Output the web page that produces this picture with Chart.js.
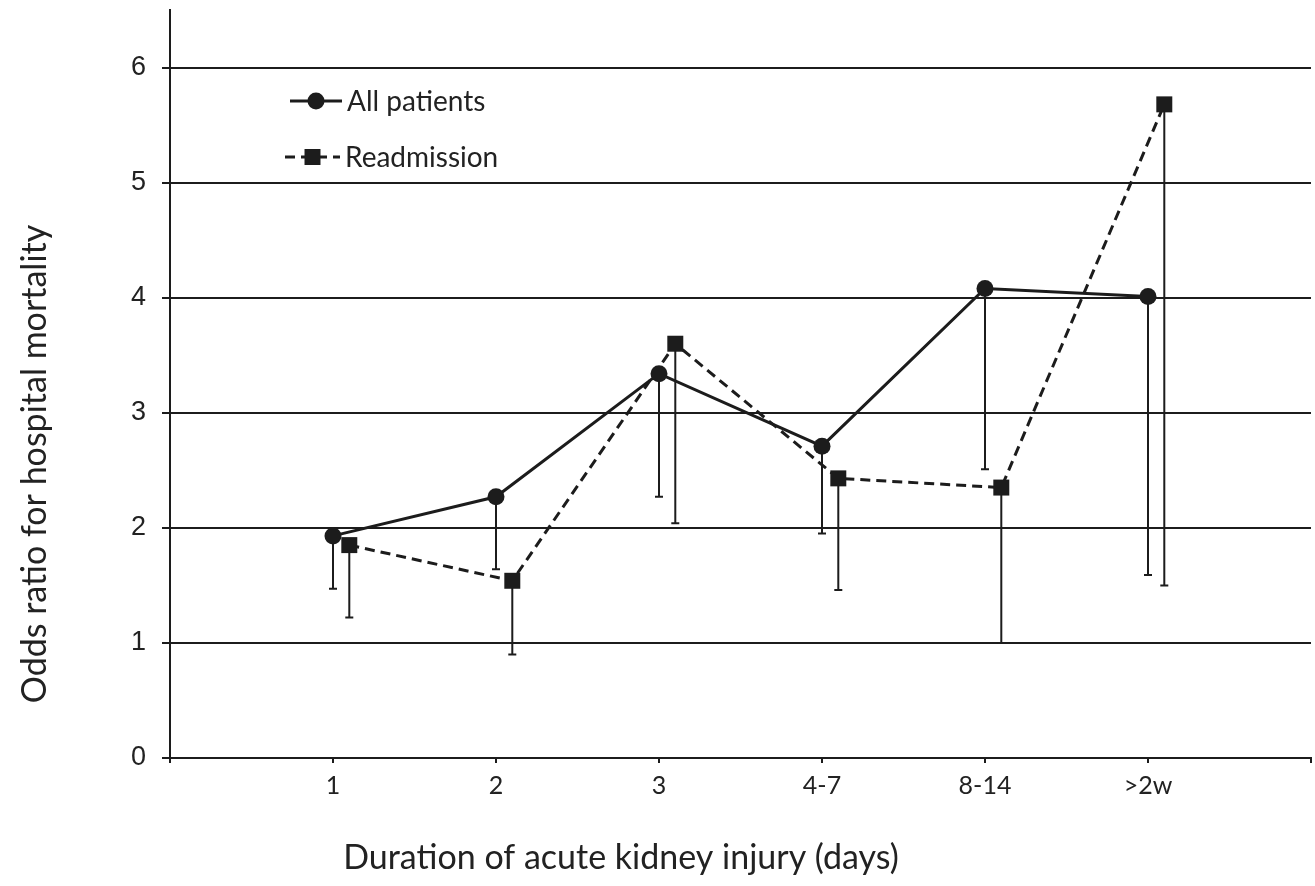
<!DOCTYPE html>
<html>
<head>
<meta charset="utf-8">
<script src="https://cdn.jsdelivr.net/npm/chart.js@4.4.1/dist/chart.umd.min.js"></script>
<style>
  html, body { margin: 0; padding: 0; background: #fff; }
  #c { display: block; }
</style>
</head>
<body>
<canvas id="c" width="1315" height="886"></canvas>
<script>
// Duration categories and odds ratios with lower confidence limits
const durationLabels = ['1', '2', '3', '4-7', '8-14', '>2w'];
const allPatientsOR = [1.93, 2.27, 3.34, 2.71, 4.08, 4.01];
const allPatientsLower = [1.47, 1.64, 2.27, 1.95, 2.51, 1.59];
const readmissionOR = [1.85, 1.54, 3.60, 2.43, 2.35, 5.68];
const readmissionLower = [1.22, 0.90, 2.04, 1.46, 1.00, 1.50];
const yTickValues = [0, 1, 2, 3, 4, 5, 6];
const xTitle = 'Duration of acute kidney injury (days)';
const yTitle = 'Odds ratio for hospital mortality';

// small horizontal nudge so the two series' bars do not overlap
const READMISSION_SHIFT = 0.1;
const INK = '#1c1c1c';
const SANS = 'Lato, "Open Sans", sans-serif';

const toPoints = (vals, shift) => vals.map((v, i) => ({ x: i + 1 + shift, y: v }));
const lowerLimits = [allPatientsLower, readmissionLower];

// lower confidence-limit whiskers, drawn beneath the lines
const lowerWhiskers = {
  id: 'lowerWhiskers',
  beforeDatasetsDraw(chart) {
    const { ctx, scales: { x, y } } = chart;
    ctx.save();
    ctx.strokeStyle = INK;
    ctx.lineWidth = 2;
    chart.data.datasets.forEach((ds, d) => {
      ds.data.forEach((p, i) => {
        const px = x.getPixelForValue(p.x);
        const top = y.getPixelForValue(p.y);
        const bot = y.getPixelForValue(lowerLimits[d][i]);
        ctx.beginPath();
        ctx.moveTo(px, top);
        ctx.lineTo(px, bot);
        ctx.moveTo(px - 4, bot);
        ctx.lineTo(px + 4, bot);
        ctx.stroke();
      });
    });
    ctx.restore();
  }
};

// legend placed inside the plotting area
const insideLegend = {
  id: 'insideLegend',
  afterDraw(chart) {
    const { ctx, chartArea } = chart;
    const items = [
      { ds: chart.data.datasets[0], x0: chartArea.left + 120, x1: chartArea.left + 172, y: chartArea.top + 91 },
      { ds: chart.data.datasets[1], x0: chartArea.left + 115, x1: chartArea.left + 170, y: chartArea.top + 147 }
    ];
    ctx.save();
    items.forEach(it => {
      const ds = it.ds;
      ctx.strokeStyle = INK;
      ctx.lineWidth = ds.borderWidth;
      ctx.setLineDash(ds.borderDash || []);
      ctx.beginPath();
      ctx.moveTo(it.x0, it.y);
      ctx.lineTo(it.x1, it.y);
      ctx.stroke();
      ctx.setLineDash([]);
      ctx.fillStyle = INK;
      Chart.helpers.drawPoint(ctx, {
        pointStyle: ds.pointStyle,
        radius: ds.pointRadius,
        borderWidth: 0,
        rotation: 0
      }, (it.x0 + it.x1) / 2, it.y);
      ctx.font = '28px ' + SANS;
      ctx.textBaseline = 'middle';
      ctx.textAlign = 'left';
      ctx.fillStyle = '#222';
      ctx.fillText(ds.label, it.x1 + 5, it.y + 1);
    });
    ctx.restore();
  }
};

// axis titles, placed off-centre below and beside the plot
const axisTitles = {
  id: 'axisTitles',
  afterDraw(chart) {
    const { ctx, chartArea } = chart;
    ctx.save();
    ctx.fillStyle = '#222';
    ctx.font = '34px ' + SANS;
    ctx.textAlign = 'center';
    ctx.textBaseline = 'middle';
    ctx.fillText(xTitle, chartArea.left + 451, chartArea.bottom + 100);
    ctx.translate(35, chartArea.top + 454);
    ctx.rotate(-Math.PI / 2);
    ctx.fillText(yTitle, 0, 0);
    ctx.restore();
  }
};

new Chart(document.getElementById('c'), {
  type: 'line',
  data: {
    datasets: [
      {
        label: 'All patients',
        data: toPoints(allPatientsOR, 0),
        borderColor: INK,
        backgroundColor: INK,
        borderWidth: 3,
        pointStyle: 'circle',
        pointRadius: 8.5,
        pointBackgroundColor: INK,
        pointBorderWidth: 0,
        tension: 0,
        clip: false
      },
      {
        label: 'Readmission',
        data: toPoints(readmissionOR, READMISSION_SHIFT),
        borderColor: INK,
        backgroundColor: INK,
        borderWidth: 3,
        borderDash: [10, 6],
        pointStyle: 'rect',
        pointRadius: 11.3,
        pointBackgroundColor: INK,
        pointBorderWidth: 0,
        tension: 0,
        clip: false
      }
    ]
  },
  options: {
    responsive: false,
    animation: false,
    events: [],
    layout: { autoPadding: false, padding: { top: 10, right: 4, left: 0, bottom: 0 } },
    plugins: {
      legend: { display: false },
      tooltip: { enabled: false }
    },
    scales: {
      x: {
        type: 'linear',
        min: 0,
        max: 7,
        afterBuildTicks(scale) {
          scale.ticks = [0, 1, 2, 3, 4, 5, 6, 7].map(v => ({ value: v }));
        },
        afterFit(scale) {
          scale.height = 128;
          scale.paddingLeft = 0;
          scale.paddingRight = 0;
        },
        grid: {
          drawOnChartArea: false,
          drawTicks: true,
          tickLength: 5,
          color: INK,
          lineWidth: 2
        },
        border: { display: true, color: INK, width: 2 },
        ticks: {
          autoSkip: false,
          maxRotation: 0,
          padding: 8,
          color: '#222',
          font: { family: SANS, size: 25 },
          callback: v => durationLabels[v - 1] || ''
        }
      },
      y: {
        min: 0,
        max: 6.5,
        afterBuildTicks(scale) {
          scale.ticks = yTickValues.map(v => ({ value: v }));
        },
        afterFit(scale) {
          scale.width = 170;
          scale.paddingTop = 0;
          scale.paddingBottom = 0;
        },
        grid: {
          color: INK,
          lineWidth: 2,
          drawTicks: true,
          tickLength: 8
        },
        border: { display: true, color: INK, width: 2 },
        ticks: {
          padding: 16,
          color: '#222',
          font: { family: '"Liberation Sans", Arial, sans-serif', size: 27 }
        }
      }
    }
  },
  plugins: [lowerWhiskers, insideLegend, axisTitles]
});
</script>
</body>
</html>
